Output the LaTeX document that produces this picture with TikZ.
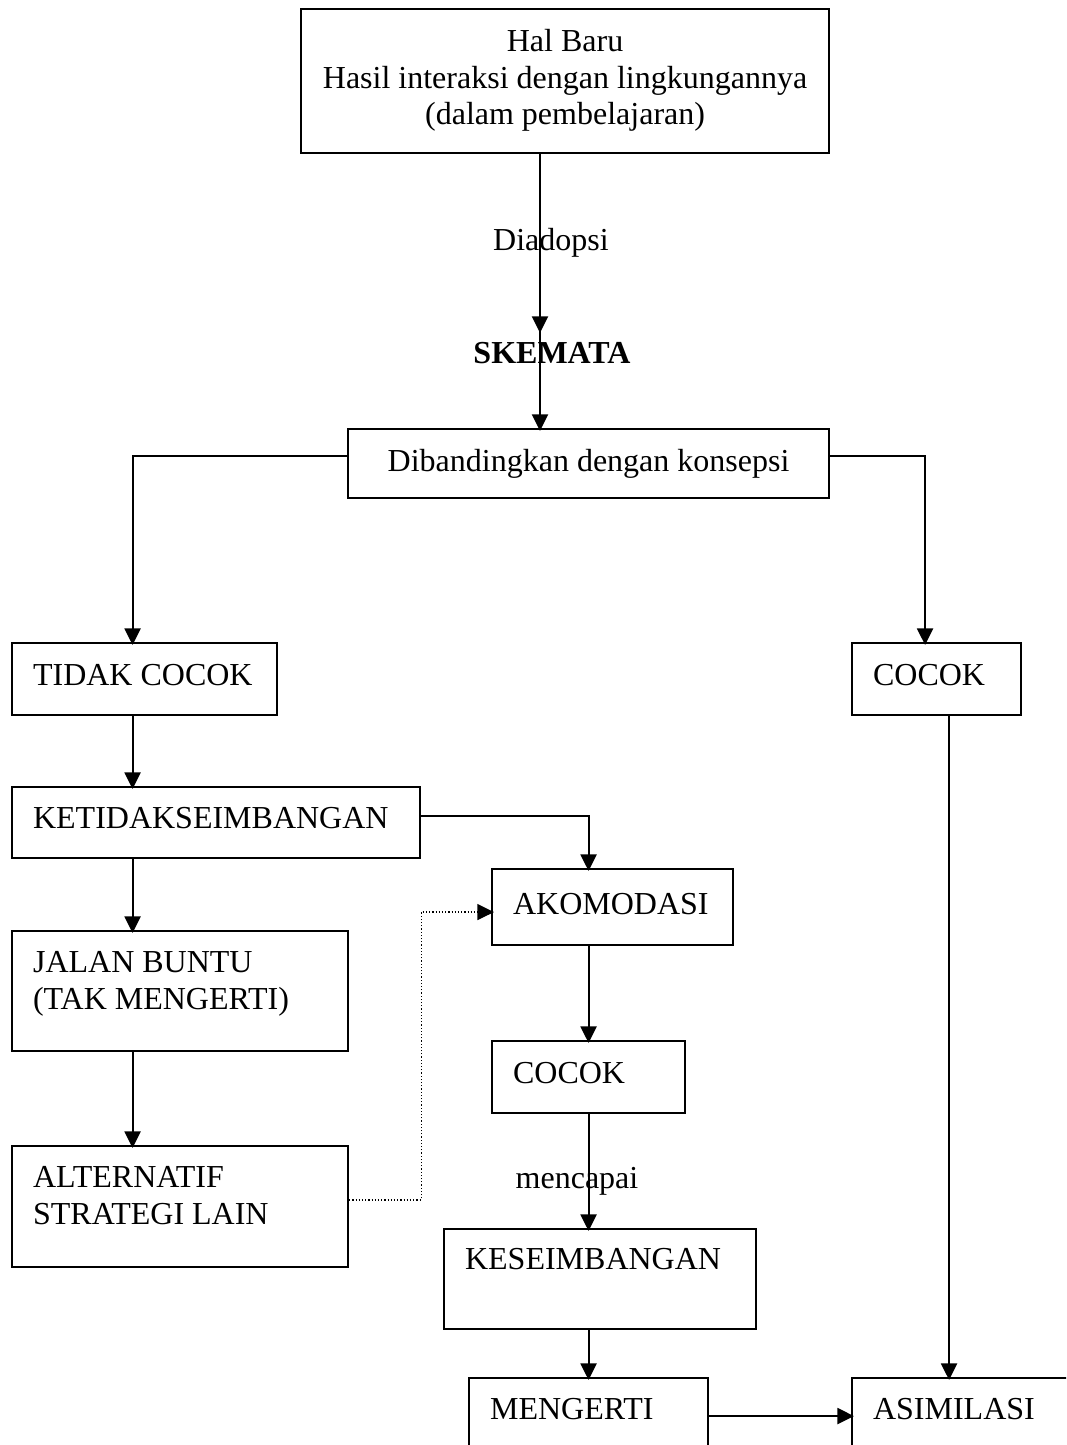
\documentclass[tikz,border=0pt]{standalone}
\usepackage{fontspec}
\setmainfont{Liberation Serif}
\usetikzlibrary{arrows.meta}
\newlength\pxu
\setlength\pxu{0.375pt}
% fixed-width rows: text flush left, or centred
\newcommand\leftrow[2]{\hbox to \dimexpr#1\pxu\relax{#2\hfil}}
\newcommand\midrow[2]{\hbox to \dimexpr#1\pxu\relax{\hfil#2\hfil}}
\tikzset{
  box/.style={draw, line width=0.8pt, anchor=north west, inner xsep=21*\pxu, inner ysep=0pt},
  lbl/.style={inner sep=0pt},
  tip/.style={-{Triangle[length=6.2pt,width=6pt]}, shorten >=-1.1pt},
  arr/.style={line width=0.8pt, tip},
  dotarr/.style={line width=0.45pt, dash pattern=on 0.45pt off 0.75pt, tip},
}
\begin{document}
\begin{tikzpicture}[x=0.375pt, y=-0.375pt, font=\fontsize{12pt}{13.7pt}\selectfont]
\useasboundingbox (0,0) rectangle (1066,1445);
\fill[white] (0,0) rectangle (1066,1445);
\clip (0,0) rectangle (1066,1445);

% boxes
\node[box, text height=42.5*\pxu, text depth=101.5*\pxu] (top) at (300,8)
  {\midrow{486}{\begin{tabular}[t]{@{}c@{}}Hal Baru\\Hasil interaksi dengan lingkungannya\\(dalam pembelajaran)\end{tabular}}};
\node[box, text height=42.5*\pxu, text depth=26.5*\pxu] (banding) at (347,428)
  {\midrow{439}{Dibandingkan dengan konsepsi}};
\node[box, text height=42*\pxu, text depth=30*\pxu] (tidak) at (11,642)
  {\leftrow{223}{TIDAK COCOK}};
\node[box, text height=42*\pxu, text depth=30*\pxu] (cocokR) at (851,642)
  {\leftrow{127}{COCOK}};
\node[box, text height=41.5*\pxu, text depth=29.5*\pxu] (ketidak) at (11,786)
  {\leftrow{366}{KETIDAKSEIMBANGAN}};
\node[box, text height=45.5*\pxu, text depth=30.5*\pxu] (akomodasi) at (491,868)
  {\leftrow{199}{AKOMODASI}};
\node[box, text height=41.5*\pxu, text depth=78.5*\pxu] (jalan) at (11,930)
  {\leftrow{294}{\begin{tabular}[t]{@{}l@{}}JALAN BUNTU\\(TAK MENGERTI)\end{tabular}}};
\node[box, text height=41.5*\pxu, text depth=79.5*\pxu] (alternatif) at (11,1145)
  {\leftrow{294}{\begin{tabular}[t]{@{}l@{}}ALTERNATIF\\STRATEGI LAIN\end{tabular}}};
\node[box, text height=42.5*\pxu, text depth=29.5*\pxu] (cocokL) at (491,1040)
  {\leftrow{151}{COCOK}};
\node[box, text height=40.5*\pxu, text depth=59.5*\pxu] (kesei) at (443,1228)
  {\leftrow{270}{KESEIMBANGAN}};
\node[box, text height=41.5*\pxu, text depth=100*\pxu] (mengerti) at (468,1377)
  {\leftrow{197}{MENGERTI}};
\node[box, text height=41.5*\pxu, text depth=100*\pxu] (asimilasi) at (851,1377)
  {\leftrow{218}{ASIMILASI}};

% free labels on the connectors
\node[lbl] (diadopsi) at (551,243) {Diadopsi};
\node[lbl] (skemata) at (552,353) {\bfseries SKEMATA};
\node[lbl] (mencapai) at (577,1181) {mencapai};
\coordinate (skemtip) at (540,330);

% connectors
\draw[arr] (top.south -| skemtip) -- (skemtip);
\draw[arr] (skemtip) -- (skemtip |- banding.north);
\draw[arr] ([yshift=7.5*\pxu]banding.west) -| ([xshift=-12*\pxu]tidak.north);
\draw[arr] ([yshift=7.5*\pxu]banding.east) -| ([xshift=-11.5*\pxu]cocokR.north);
\draw[arr] ([xshift=-12*\pxu]tidak.south) -- ([xshift=-12*\pxu]tidak.south |- ketidak.north);
\draw[arr] ([yshift=6.5*\pxu]ketidak.east) -| (cocokL.north |- akomodasi.north);
\draw[arr] ([xshift=-12*\pxu]tidak.south |- ketidak.south) -- ([xshift=-12*\pxu]tidak.south |- jalan.north);
\draw[arr] ([xshift=-12*\pxu]tidak.south |- jalan.south) -- ([xshift=-12*\pxu]tidak.south |- alternatif.north);
\draw[dotarr] ([yshift=6.5*\pxu]alternatif.east) -- ++(72,0) |- ([yshift=-5*\pxu]akomodasi.west);
\draw[arr] (cocokL.north |- akomodasi.south) -- (cocokL.north);
\draw[arr] (cocokL.south) -- (cocokL.south |- kesei.north);
\draw[arr] (mengerti.north |- kesei.south) -- (mengerti.north);
\draw[arr] ([xshift=12.5*\pxu]cocokR.south) -- ([xshift=12.5*\pxu]cocokR.south |- asimilasi.north);
\draw[arr] ([yshift=3.5*\pxu]mengerti.base east) -- ([yshift=3.5*\pxu]asimilasi.base west);
\end{tikzpicture}
\end{document}
